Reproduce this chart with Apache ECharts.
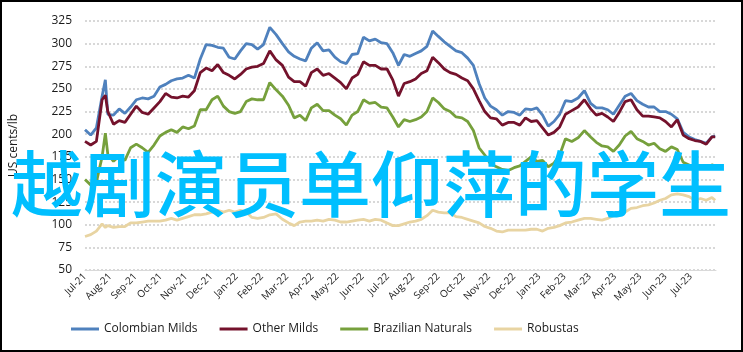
<!DOCTYPE html>
<html>
<head>
<meta charset="utf-8">
<script src="https://cdn.jsdelivr.net/npm/echarts@6/dist/echarts.min.js"></script>
<style>
html,body{margin:0;padding:0;background:#fff;}
#chart{width:743px;height:352px;}
</style>
</head>
<body>
<div id="chart"></div>
<script>
// Weekly observation dates (plus one extra late-July-2021 point)
const dates = [
'2021-07-01','2021-07-08','2021-07-15','2021-07-22','2021-07-26','2021-07-29',
'2021-08-05','2021-08-12','2021-08-19','2021-08-26',
'2021-09-02','2021-09-09','2021-09-16','2021-09-23','2021-09-30',
'2021-10-07','2021-10-14','2021-10-21','2021-10-28',
'2021-11-04','2021-11-11','2021-11-18','2021-11-25',
'2021-12-02','2021-12-09','2021-12-16','2021-12-23','2021-12-30',
'2022-01-06','2022-01-13','2022-01-20','2022-01-27',
'2022-02-03','2022-02-10','2022-02-17','2022-02-24',
'2022-03-03','2022-03-10','2022-03-17','2022-03-24','2022-03-31',
'2022-04-07','2022-04-14','2022-04-21','2022-04-28',
'2022-05-05','2022-05-12','2022-05-19','2022-05-26',
'2022-06-02','2022-06-09','2022-06-16','2022-06-23','2022-06-30',
'2022-07-07','2022-07-14','2022-07-21','2022-07-28',
'2022-08-04','2022-08-11','2022-08-18','2022-08-25',
'2022-09-01','2022-09-08','2022-09-15','2022-09-22','2022-09-29',
'2022-10-06','2022-10-13','2022-10-20','2022-10-27',
'2022-11-03','2022-11-10','2022-11-17','2022-11-24',
'2022-12-01','2022-12-08','2022-12-15','2022-12-22','2022-12-29',
'2023-01-05','2023-01-12','2023-01-19','2023-01-26',
'2023-02-02','2023-02-09','2023-02-16','2023-02-23',
'2023-03-02','2023-03-09','2023-03-16','2023-03-23','2023-03-30',
'2023-04-06','2023-04-13','2023-04-20','2023-04-27',
'2023-05-04','2023-05-11','2023-05-18','2023-05-25',
'2023-06-01','2023-06-08','2023-06-15','2023-06-22','2023-06-29',
'2023-07-06','2023-07-13','2023-07-20','2023-07-27','2023-07-31'
];

const colombianMilds = [
205,199,207,242,260,222,
221,228,223,230,
238,240,239,242,252,
255,259,261,262,
265,262,283,299,
298,296,295,285,283,
292,300,299,294,
299,318,310,300,
291,286,283,281,295,
301,292,293,285,
280,278,288,289,
307,303,305,301,300,
290,276,288,286,
289,292,297,314,
308,302,297,292,290,
284,276,256,240,
231,227,221,225,
224,221,228,227,229,
221,209,214,222,
237,236,240,248,
234,229,229,227,222,
232,242,245,237,
233,230,230,225,
225,222,217,202,197,
194,192,190,197,198
];

const otherMilds = [
192,188,192,238,243,225,
211,215,213,222,
231,224,222,229,236,
245,241,240,242,
241,248,268,273,
270,277,268,265,261,
266,272,274,275,
278,292,282,276,
263,258,258,253,268,
272,265,267,262,
257,250,262,266,
280,276,276,272,272,
260,242,256,258,
261,267,270,285,
279,272,268,266,262,
259,250,237,225,
218,217,210,213,
213,210,218,214,215,
207,199,202,208,
222,226,230,238,
228,221,223,219,214,
224,236,238,227,
220,220,219,218,
214,208,216,199,195,
193,192,189,197,197
];

const brazilianNaturals = [
150,144,147,175,201,178,
170,176,171,185,
189,185,180,188,198,
202,205,202,208,
206,209,227,227,
238,242,231,225,223,
225,236,239,238,
238,257,249,242,
232,218,221,215,229,
233,226,226,221,
217,210,221,225,
238,234,235,230,229,
219,208,216,214,
216,219,225,240,
235,228,225,219,218,
214,204,185,177,
167,164,161,160,
163,165,170,175,170,
171,164,168,177,
195,192,196,204,
197,191,187,186,181,
188,198,203,195,
192,188,190,184,
181,186,183,169,166,
163,164,162,166,165
];

const robustas = [
87,89,93,101,97,99,
97,98,98,102,
102,103,104,104,104,
105,107,105,107,
109,111,111,112,
114,116,114,116,114,
116,114,108,107,
108,111,112,106,
102,99,103,104,104,
105,104,106,105,
103,103,104,105,
106,104,106,105,102,
99,99,101,103,
104,106,110,116,
114,113,113,109,108,
106,104,102,98,
96,93,92,94,
94,94,94,95,95,
93,96,97,99,
102,103,105,107,
107,106,105,107,110,
112,114,118,119,
121,122,124,127,
129,133,134,133,131,
127,129,127,130,127
];

const seriesNames = ['Colombian Milds','Other Milds','Brazilian Naturals','Robustas'];
const tickLabels = ['Jul-21','Aug-21','Sep-21','Oct-21','Nov-21','Dec-21','Jan-22','Feb-22','Mar-22','Apr-22','May-22','Jun-22',
  'Jul-22','Aug-22','Sep-22','Oct-22','Nov-22','Dec-22','Jan-23','Feb-23','Mar-23','Apr-23','May-23','Jun-23','Jul-23'];
const overlayText = '越剧演员单仰萍的学生';

function monthIndex(s){
  const p = s.split('-').map(Number);
  const dim = new Date(p[0], p[1], 0).getDate();
  return (p[0]-2021)*12 + (p[1]-7) + (p[2]-1)/dim;
}
const xs = dates.map(monthIndex);
function pairs(vals){ return vals.map((v,i)=>[xs[i], v]); }

const colors = ['#4F81BD','#74122C','#76A03C','#E8D4A2'];
const FONT = 'Open Sans';

const chart = echarts.init(document.getElementById('chart'), null, {renderer:'canvas'});
chart.setOption({
  animation:false,
  color: colors,
  grid:{left:80, right:27, top:21, bottom:82, containLabel:false},
  xAxis:{
    type:'value', min:0, max:25, interval:1,
    axisLine:{show:true, lineStyle:{color:'#d9d9d9', width:1}},
    axisTick:{show:false},
    splitLine:{show:false},
    axisLabel:{
      rotate:45, margin:5, fontSize:10, fontFamily:FONT, color:'#1a1a1a',
      formatter:function(v){ const i=Math.round(v); return tickLabels[i]||''; }
    }
  },
  yAxis:{
    type:'value', min:50, max:325, interval:25,
    name:'US cents/lb', nameLocation:'middle', nameGap:65, nameRotate:90,
    nameTextStyle:{fontSize:12, fontFamily:FONT, color:'#1a1a1a'},
    axisLine:{show:false}, axisTick:{show:false},
    axisLabel:{fontSize:12, fontFamily:FONT, color:'#1a1a1a', margin:13},
    splitLine:{show:true, lineStyle:{color:'#cccccc', width:1.5, type:[2,2]}}
  },
  legend:{
    left:71, top:323, padding:0, itemWidth:28, itemHeight:3, itemGap:22, icon:'rect',
    textStyle:{fontSize:12, fontFamily:FONT, color:'#1a1a1a'},
    data:seriesNames
  },
  series:[
    {name:seriesNames[0], type:'line', data:pairs(colombianMilds), showSymbol:false, lineStyle:{width:2.8, color:colors[0]}, z:2},
    {name:seriesNames[1], type:'line', data:pairs(otherMilds), showSymbol:false, lineStyle:{width:2.8, color:colors[1]}, z:3},
    {name:seriesNames[2], type:'line', data:pairs(brazilianNaturals), showSymbol:false, lineStyle:{width:2.8, color:colors[2]}, z:4},
    {name:seriesNames[3], type:'line', data:pairs(robustas), showSymbol:false, lineStyle:{width:2.8, color:colors[3]}, z:5}
  ],
  graphic:[
    {type:'text', x:371, y:184, z:100,
      style:{text:overlayText, fontSize:72, fontFamily:'"Noto Sans CJK SC"', fontWeight:500, fill:'#00BFFF', align:'center', verticalAlign:'middle'}},
    {type:'rect', z:101, shape:{x:1, y:1, width:741, height:350}, style:{fill:'none', stroke:'#000', lineWidth:2}}
  ]
});
</script>
</body>
</html>
